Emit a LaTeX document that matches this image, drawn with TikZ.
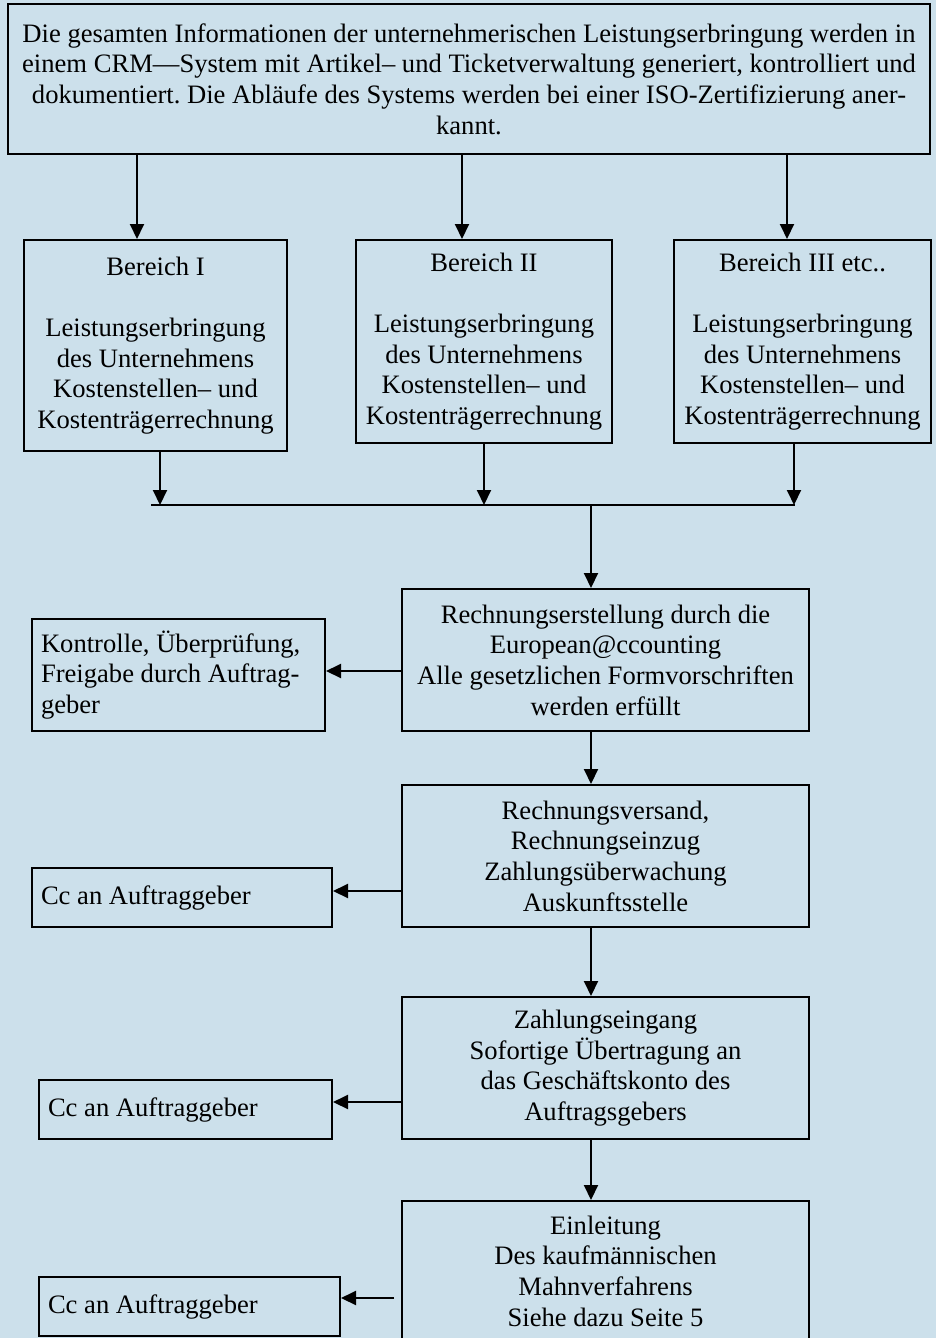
\documentclass[tikz,border=0pt]{standalone}
\usepackage{fontspec}
\setmainfont{Liberation Serif}
\usetikzlibrary{arrows.meta}
\definecolor{bg}{RGB}{204,224,235}
\frenchspacing
\begin{document}
\begin{tikzpicture}[x=1pt,y=-1pt,
  font=\fontsize{26.6}{30.7}\selectfont,
  box/.style={draw,line width=2pt,rectangle,inner sep=0pt,align=center},
  lbox/.style={draw,line width=2pt,rectangle,inner xsep=9pt,inner ysep=0pt,align=left},
  arr/.style={line width=2pt,-{Triangle[length=15pt,width=14pt]}},
  ln/.style={line width=2pt}]
\clip (0,0) rectangle (936,1338);
\fill[bg] (0,0) rectangle (936,1338);

% top box
\node[box,minimum width=922,minimum height=150] (top) at (469,79)
  {Die gesamten Informationen der unternehmerischen Leistungserbringung werden in\\einem CRM—System mit Artikel– und Ticketverwaltung generiert, kontrolliert und\\dokumentiert. Die Abläufe des Systems werden bei einer ISO-Zertifizierung aner-\\kannt.};

% Bereich boxes
\node[box,minimum width=263,minimum height=211] (b1) at (155.5,345.5)
  {Bereich I\\[30.7pt]Leistungserbringung\\des Unternehmens\\Kostenstellen– und\\Kostenträgerrechnung};
\node[box,minimum width=256,minimum height=203] (b2) at (484,341.5)
  {Bereich II\\[30.7pt]Leistungserbringung\\des Unternehmens\\Kostenstellen– und\\Kostenträgerrechnung};
\node[box,minimum width=257,minimum height=203] (b3) at (802.5,341.5)
  {Bereich III etc..\\[30.7pt]Leistungserbringung\\des Unternehmens\\Kostenstellen– und\\Kostenträgerrechnung};

% main chain
\node[box,minimum width=407,minimum height=142] (r1) at (605.5,660)
  {Rechnungserstellung durch die\\European@ccounting\\Alle gesetzlichen Formvorschriften\\werden erfüllt};
\node[box,minimum width=407,minimum height=142] (r2) at (605.5,856)
  {Rechnungsversand,\\Rechnungseinzug\\Zahlungsüberwachung\\Auskunftsstelle};
\node[box,minimum width=407,minimum height=142] (r3) at (605.5,1068)
  {Zahlungseingang\\Sofortige Übertragung an\\das Geschäftskonto des\\Auftragsgebers};
\node[box,minimum width=407,minimum height=140] (r4) at (605.5,1271)
  {Einleitung\\Des kaufmännischen\\Mahnverfahrens\\Siehe dazu Seite 5};

% side boxes
\node[lbox,text width=275,minimum height=112] (k) at (178.5,675)
  {\spaceskip=0pt\xspaceskip=0pt Kontrolle, Überprüfung,\\Freigabe durch Auftrag-\\geber};
\node[lbox,text width=282,minimum height=59] (c1) at (182,897.5)
  {\spaceskip=0pt\xspaceskip=0pt Cc an Auftraggeber};
\node[lbox,text width=275,minimum height=59] (c2) at (185.5,1109.5)
  {\spaceskip=0pt\xspaceskip=0pt Cc an Auftraggeber};
\node[lbox,text width=283,minimum height=59] (c3) at (189.5,1306.5)
  {\spaceskip=0pt\xspaceskip=0pt Cc an Auftraggeber};

% helper coordinates
\coordinate (xa) at (137,0);
\coordinate (xb) at (462,0);
\coordinate (xc) at (787,0);
\coordinate (xd) at (160,0);
\coordinate (xe) at (484,0);
\coordinate (xf) at (794,0);
\coordinate (busL) at (151,505);
\coordinate (busR) at (795,505);
\coordinate (busM) at (591,505);
\coordinate (ya) at (0,671);
\coordinate (yb) at (0,891);
\coordinate (yc) at (0,1102);
\coordinate (c3s) at (394,1298);

% connectors
\draw[arr] (top.south -| xa) -- (b1.north -| xa);
\draw[arr] (top.south -| xb) -- (b2.north -| xb);
\draw[arr] (top.south -| xc) -- (b3.north -| xc);
\draw[arr] (b1.south -| xd) -- (busL -| xd);
\draw[arr] (b2.south -| xe) -- (busL -| xe);
\draw[arr] (b3.south -| xf) -- (busL -| xf);
\draw[ln] (busL) -- (busR);
\draw[arr] (busM) -- (r1.north -| busM);
\draw[arr] (r1.south -| busM) -- (r2.north -| busM);
\draw[arr] (r2.south -| busM) -- (r3.north -| busM);
\draw[arr] (r3.south -| busM) -- (r4.north -| busM);
\draw[arr] (r1.west |- ya) -- (k.east |- ya);
\draw[arr] (r2.west |- yb) -- (c1.east |- yb);
\draw[arr] (r3.west |- yc) -- (c2.east |- yc);
\draw[arr] (c3s) -- (c3.east |- c3s);
\end{tikzpicture}
\end{document}
